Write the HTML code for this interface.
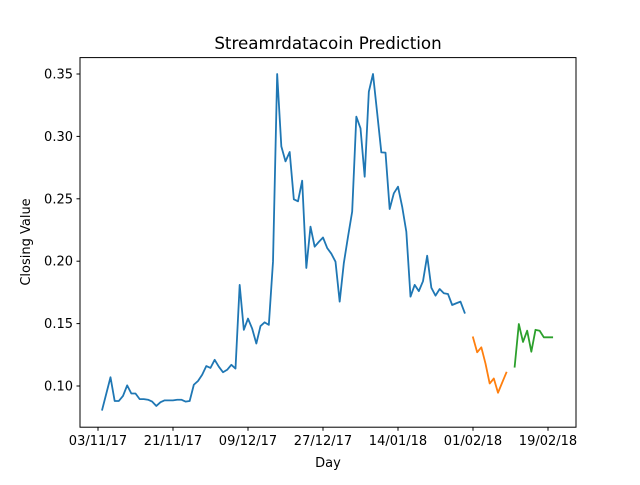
<!DOCTYPE html>
<html><head><meta charset="utf-8"><style>
body{margin:0;background:#fff;}
svg{font-family:"DejaVu Sans","Liberation Sans",sans-serif;}
</style></head><body>
<svg id="chart" width="640" height="480" viewBox="0 0 640 480">
<rect x="0" y="0" width="640" height="480" fill="#fff"/>
<text x="328" y="49" font-size="16.7" text-anchor="middle">Streamrdatacoin Prediction</text>
<text x="328" y="467" font-size="13" text-anchor="middle">Day</text>
<text transform="translate(30,242) rotate(-90)" font-size="13" text-anchor="middle">Closing Value</text>
<g id="plot"></g>
<rect x="80" y="57.6" width="496" height="369.6" fill="none" stroke="#000" stroke-width="1"/>
</svg>
<script>
const xTickDays = [0, 18, 36, 54, 72, 90, 108];
const xTickLabels = ["03/11/17","21/11/17","09/12/17","27/12/17","14/01/18","01/02/18","19/02/18"];
const yTicks = [0.10, 0.15, 0.20, 0.25, 0.30, 0.35];
const historyStartDay = 1;
const historyValues = [0.081,0.094,0.107,0.088,0.088,0.092,0.1005,0.094,0.094,0.0895,0.0895,0.089,0.0875,0.084,0.087,0.0885,0.0885,0.0885,0.089,0.089,0.0875,0.088,0.101,0.104,0.109,0.116,0.1145,0.121,0.1155,0.111,0.113,0.117,0.114,0.181,0.145,0.154,0.146,0.134,0.148,0.151,0.149,
0.1996,0.35,0.292,0.280,0.2875,0.2496,0.248,0.2645,0.1946,0.2277,0.2116,0.2155,0.219,0.2106,0.206,0.1996,0.1676,0.1985,0.2196,
0.2397,0.3158,0.3065,0.2677,0.3358,0.35,0.3188,0.2872,0.287,0.2418,0.2544,0.2597,0.2437,0.2236,0.1716,0.181,0.176,0.184,0.2044,0.1788,0.1724,0.1777,0.1743,0.1737,0.1649,0.1663,0.1676,0.1587];
const testStartDay = 90;
const testValues = [0.139,0.127,0.131,0.118,0.102,0.106,0.0946,0.1027,0.1107];
const predStartDay = 100;
const predValues = [0.1155,0.1497,0.1353,0.1443,0.1275,0.145,0.1443,0.139,0.139,0.139];

const NS = "http://www.w3.org/2000/svg";
const plot = document.getElementById("plot");
function xs(d){ return 98 + d * (75/18); }
function ys(v){ return 386 - (v - 0.10) * 1248; }
function mk(tag, attrs){ const e = document.createElementNS(NS, tag); for (const k in attrs) e.setAttribute(k, attrs[k]); plot.appendChild(e); return e; }

xTickDays.forEach((d, i) => {
  const t = mk("line", {x1: xs(d), x2: xs(d), y1: 427.2, y2: 430.7, stroke: "#000"});
  
  
  const l = mk("text", {x: xs(d), y: 445, "font-size": 13, "text-anchor": "middle"});
  l.textContent = xTickLabels[i];
  
  
});
yTicks.forEach(v => {
  const t = mk("line", {x1: 76.5, x2: 80, y1: ys(v), y2: ys(v), stroke: "#000"});
  
  
  const l = mk("text", {x: 73, y: ys(v) + 4.5, "font-size": 13, "text-anchor": "end"});
  l.textContent = v.toFixed(2);
  
  
});
function series(start, vals, color, name){
  const pts = vals.map((v, i) => xs(start + i).toFixed(2) + "," + ys(v).toFixed(2)).join(" ");
  const p = mk("polyline", {points: pts, fill: "none", stroke: color, "stroke-width": 1.8, "stroke-linejoin": "round", "stroke-linecap": "square"});
  
  
}
series(historyStartDay, historyValues, "#1f77b4", "history-line");
series(testStartDay, testValues, "#ff7f0e", "actual-line");
series(predStartDay, predValues, "#2ca02c", "prediction-line");
</script>
</body></html>
